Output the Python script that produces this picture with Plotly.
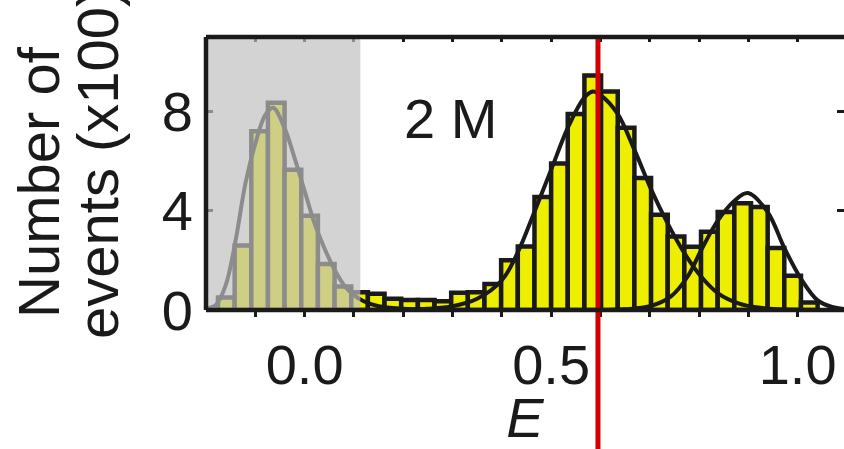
import plotly.graph_objects as go

# ---------------- data ----------------
bin_centers = [-0.1926, -0.1588, -0.1250, -0.0912, -0.0575, -0.0237, 0.0101, 0.0439,
               0.0777, 0.1115, 0.1452, 0.1790, 0.2128, 0.2466, 0.2804, 0.3142,
               0.3479, 0.3817, 0.4155, 0.4493, 0.4831, 0.5169, 0.5506, 0.5844,
               0.6182, 0.6520, 0.6858, 0.7196, 0.7533, 0.7871, 0.8209, 0.8547,
               0.8885, 0.9223, 0.9560, 0.9898, 1.0236]
counts = [0.0, 0.5, 2.6, 7.2, 8.35, 5.65, 3.8, 1.85,
          0.95, 0.72, 0.65, 0.45, 0.4, 0.4, 0.35, 0.7,
          0.72, 1.05, 2.0, 2.56, 4.55, 5.9, 7.9, 9.45,
          8.8, 7.34, 5.32, 3.84, 2.96, 2.55, 3.15, 3.95,
          4.3, 4.15, 2.5, 1.38, 0.3]
bin_width = 0.0338

# fitted curves
low_fit_E = [-0.20, -0.18, -0.16, -0.14, -0.12, -0.10, -0.08, -0.064, -0.04, -0.02,
             0.00, 0.02, 0.04, 0.06, 0.08, 0.10, 0.12, 0.15, 0.20, 0.25]
low_fit_n = [0.05, 0.2, 1.0, 2.8, 5.1, 6.7, 7.85, 8.15, 7.3, 6.1,
             4.8, 3.5, 2.5, 1.65, 1.0, 0.6, 0.35, 0.15, 0.05, 0.02]
mid_fit_E = [0.20, 0.25, 0.30, 0.35, 0.40, 0.433, 0.466, 0.50, 0.534, 0.567, 0.585,
             0.601, 0.635, 0.669, 0.703, 0.736, 0.77, 0.804, 0.84, 0.88, 0.92, 0.96, 1.0]
mid_fit_n = [0.02, 0.05, 0.15, 0.45, 1.2, 2.35, 3.95, 5.65, 7.35, 8.55, 8.8,
             8.65, 7.9, 6.45, 4.85, 3.5, 2.3, 1.35, 0.65, 0.27, 0.1, 0.03, 0.01]
high_fit_E = [0.60, 0.65, 0.70, 0.743, 0.777, 0.804, 0.838, 0.872, 0.899, 0.939,
              0.973, 1.007, 1.04, 1.07, 1.10]
high_fit_n = [0.0, 0.03, 0.15, 0.55, 1.35, 2.4, 3.6, 4.4, 4.71, 3.95,
              2.5, 1.25, 0.4, 0.12, 0.03]

marker_E = 0.595          # red vertical line
shade_E = [-0.2, 0.113]   # gray shaded E range
label_text = "2 M"
label_pos = (0.295, 7.7)

x_tick_vals = [-0.1, 0.0, 0.1, 0.2, 0.3, 0.4, 0.5, 0.6, 0.7, 0.8, 0.9, 1.0]
x_tick_text = ["", "0.0", "", "", "", "", "0.5", "", "", "", "", "1.0"]
y_tick_vals = [0, 4, 8]
y_tick_text = ["0", "4", "8"]
y_title_lines = ["Number of", "events (x100)"]
x_title = "<i>E</i>"

# ---------------- styling ----------------
INK = "#1a1a1a"
YELLOW = "#eeee00"
FONT = "Liberation Sans, Arial, Helvetica, sans-serif"
FS = 56
FS_TITLE = 58
W, H = 844, 449
L, R, T, B = 206, 0, 37, 139
x_range = [-0.2, 1.094]
y_range = [0, 11]

fig = go.Figure()
fig.add_trace(go.Bar(x=bin_centers, y=counts, width=bin_width,
                     marker=dict(color=YELLOW, line=dict(color=INK, width=4.5)),
                     showlegend=False))
for ex, ny in [(low_fit_E, low_fit_n), (mid_fit_E, mid_fit_n), (high_fit_E, high_fit_n)]:
    fig.add_trace(go.Scatter(x=ex, y=ny, mode="lines",
                             line=dict(color=INK, width=4, shape="spline", smoothing=1.0),
                             showlegend=False))
# invisible trace to carry the top (mirrored) axis
fig.add_trace(go.Scatter(x=[None], y=[None], xaxis="x2", showlegend=False))

pw = W - L - R
ph = H - T - B
def px_x(p):
    return (p - L) / pw
def px_y(p):
    return (H - B - p) / ph

annots = [
    dict(text=y_title_lines[0], x=px_x(38), y=px_y(182), xref="paper", yref="paper",
         textangle=-90, showarrow=False, xanchor="center", yanchor="middle",
         font=dict(size=FS_TITLE, color=INK, family=FONT)),
    dict(text=y_title_lines[1], x=px_x(97), y=px_y(164), xref="paper", yref="paper",
         textangle=-90, showarrow=False, xanchor="center", yanchor="middle",
         font=dict(size=FS_TITLE, color=INK, family=FONT)),
    dict(text=label_text, x=label_pos[0], y=label_pos[1], xref="x", yref="y",
         showarrow=False, xanchor="center", yanchor="middle",
         font=dict(size=FS, color=INK, family=FONT)),
]

shapes = [
    dict(type="rect", xref="x", yref="y", x0=shade_E[0], x1=shade_E[1], y0=y_range[0], y1=y_range[1],
         fillcolor="rgba(191,191,191,0.69)", line=dict(width=0), layer="above"),
    dict(type="line", xref="x", yref="paper", x0=marker_E, x1=marker_E, y0=-0.6, y1=1,
         line=dict(color="#d40000", width=5), layer="above"),
    dict(type="line", xref="paper", yref="paper", x0=0, x1=1, y0=0, y1=0,
         line=dict(color=INK, width=4.5), layer="above"),
    dict(type="line", xref="paper", yref="paper", x0=0, x1=1, y0=1, y1=1,
         line=dict(color=INK, width=4.5), layer="above"),
    dict(type="line", xref="paper", yref="paper", x0=0, x1=0, y0=0, y1=1,
         line=dict(color=INK, width=4.5), layer="above"),
]

fig.update_layout(
    template="none",
    width=W, height=H,
    margin=dict(l=L, r=R, t=T, b=B, pad=0),
    paper_bgcolor="white", plot_bgcolor="white",
    bargap=0,
    font=dict(family=FONT, size=FS, color=INK),
    xaxis=dict(range=x_range, tickmode="array", tickvals=x_tick_vals, ticktext=x_tick_text,
               ticks="outside", ticklen=6, tickwidth=3, tickcolor=INK,
               showline=False, showgrid=False, zeroline=False, automargin=False,
               tickfont=dict(size=FS, color=INK, family=FONT),
               title=dict(text=x_title, font=dict(size=FS, color=INK, family=FONT), standoff=6)),
    xaxis2=dict(range=x_range, overlaying="x", side="top", anchor="y", tickmode="array",
                tickvals=x_tick_vals, showticklabels=False,
                ticks="inside", ticklen=5, tickwidth=3, tickcolor=INK,
                showline=False, showgrid=False, zeroline=False, automargin=False),
    yaxis=dict(range=y_range, tickmode="array", tickvals=y_tick_vals, ticktext=y_tick_text,
               ticks="inside", ticklen=7, tickwidth=3, tickcolor=INK, mirror="ticks",
               showline=False, showgrid=False, zeroline=False, automargin=False,
               ticklabelstandoff=12,
               tickfont=dict(size=FS, color=INK, family=FONT)),
    annotations=annots,
    shapes=shapes,
)

fig.write_html("out.html",
               config={"displayModeBar": False, "staticPlot": True},
               post_script="document.body.style.margin='0';document.body.style.overflow='hidden';")
